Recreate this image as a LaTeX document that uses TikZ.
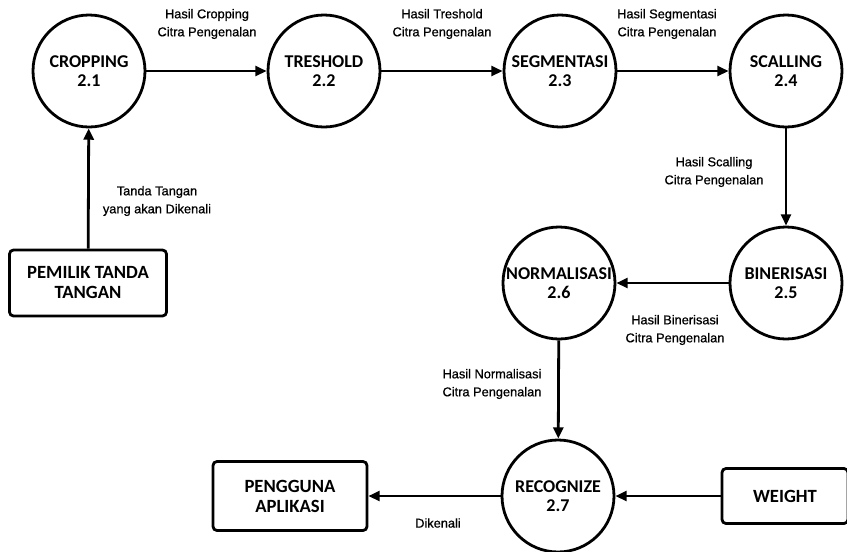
\documentclass[tikz,border=0pt]{standalone}
\usepackage{fontspec}
\setmainfont{Liberation Sans}[FakeBold=0.8]
\newfontfamily\judulfont{Carlito}
\usetikzlibrary{arrows.meta}

\begin{document}
\begin{tikzpicture}[x=0.75pt,y=0.75pt,yscale=-1,xscale=1,
  proses/.style={draw, circle, line width=2.1pt, minimum size=84pt, inner sep=0pt, align=center,
    font=\judulfont\bfseries\fontsize{13.5}{14}\selectfont},
  entitas/.style={draw, rounded corners=3pt, line width=2.1pt, inner sep=0pt, align=center,
    font=\judulfont\bfseries\fontsize{14}{15}\selectfont},
  aliran/.style={line width=2.1pt, -{Triangle[length=8.5pt,width=7.5pt]}},
  ket/.style={align=center, inner sep=0pt, font=\fontsize{9.6}{13.5}\selectfont}]
%set diagram left start at 0, and has height of 551
\useasboundingbox (0,0) rectangle (847,551);

%Proses
\node[proses] (crop) at (89,71) {CROPPING\\2.1};
\node[proses] (tresh) at (324,71) {TRESHOLD\\2.2};
\node[proses] (segm) at (560,71) {SEGMENTASI\\2.3};
\node[proses] (scal) at (786,71) {SCALLING\\2.4};
\node[proses] (biner) at (786,283) {BINERISASI\\2.5};
\node[proses] (norm) at (559,283) {NORMALISASI\\2.6};
\node[proses] (recog) at (558,496) {RECOGNIZE\\2.7};

%Entitas luar
\node[entitas, minimum width=117.75pt, minimum height=49.5pt] (pemilik) at (88,283) {PEMILIK TANDA\\TANGAN};
\node[entitas, minimum width=115.5pt, minimum height=51.75pt] (pengguna) at (290,496) {PENGGUNA\\APLIKASI};
\node[entitas, minimum width=94.5pt, minimum height=41.25pt] (weight) at (785,496) {WEIGHT};

%Aliran data
\draw[aliran] (pemilik) -- (crop);
\draw[aliran] (crop) -- (tresh);
\draw[aliran] (tresh) -- (segm);
\draw[aliran] (segm) -- (scal);
\draw[aliran] (scal) -- (biner);
\draw[aliran] (biner) -- (norm);
\draw[aliran] (norm) -- (recog);
\draw[aliran] (recog) -- (pengguna);
\draw[aliran] (weight) -- (recog);

%Keterangan aliran
\node[ket] (kcrop) at (207,24) {Hasil Cropping\\Citra Pengenalan};
\node[ket] (ktresh) at (442,24) {Hasil Treshold\\Citra Pengenalan};
\node[ket] (ksegm) at (667,24) {Hasil Segmentasi\\Citra Pengenalan};
\node[ket] (kscal) at (714,172) {Hasil Scalling\\Citra Pengenalan};
\node[ket] (kbiner) at (675,330) {Hasil Binerisasi\\Citra Pengenalan};
\node[ket] (knorm) at (492,384) {Hasil Normalisasi\\Citra Pengenalan};
\node[ket] (kdikenali) at (438,523) {Dikenali};
\node[ket] (ktanda) at (157,201) {Tanda Tangan\\yang akan Dikenali};

\end{tikzpicture}
\end{document}
